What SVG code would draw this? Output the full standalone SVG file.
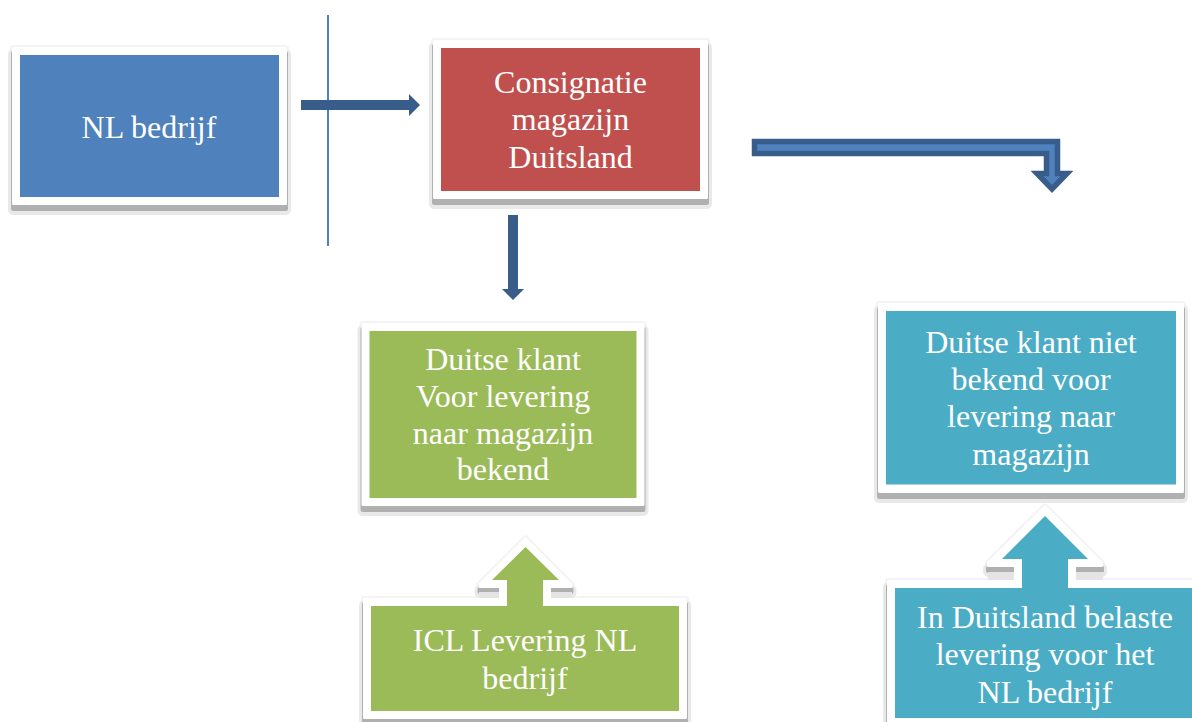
<svg xmlns="http://www.w3.org/2000/svg" xmlns:xlink="http://www.w3.org/1999/xlink" width="1192" height="722" viewBox="0 0 1192 722">
<style>
.o{fill:#f4f4f4;stroke:#f4f4f4;stroke-width:7;stroke-linejoin:round}
.sl{fill:#e9e9e9;stroke:#e9e9e9;stroke-width:11;stroke-linejoin:round}
.sd{fill:#b0b0b0;stroke:#b0b0b0;stroke-width:5;stroke-linejoin:round}
.w{fill:#fff;stroke:#fff;stroke-width:3;stroke-linejoin:round}
.blue{fill:#4f81bd}.red{fill:#c0504d}.green{fill:#9bbb59}.teal{fill:#4bacc6}
text{font-family:"Liberation Serif","Times New Roman",serif;font-size:32px;fill:#fff;text-anchor:middle}
.a{fill:#385d8a}
.l{fill:#e4e4e4}
</style>
<defs>
<rect id="s1" x="13.500" y="48.500" width="272" height="155"/>
<rect id="s2" x="434.500" y="41.500" width="272" height="156"/>
<rect id="s3" x="363" y="324.500" width="280" height="180"/>
<rect id="s4" x="879.500" y="304.500" width="303" height="187"/>
<path id="s5" d="M364.500 599.500H500.500V586.500H480V584.500L525.500 539L571 584.500V586.500H549.500V599.500H685.500V717.500H364.500Z"/>
<path id="s6" d="M888.500 581.500H1015.500V565.500H988.500V563L1045 507L1101.500 563V565.500H1074.500V581.500H1200V724.500H888.500Z"/>
</defs>
<rect width="1192" height="722" fill="#fff"/>
<g id="connectors">
<rect x="327" y="15" width="2" height="231" fill="#4f81bd"/>
<path class="a" d="M301 100H409V94L420 105L409 116V110H301Z"/>
<path class="a" d="M508 215H518V289H524L513 300L502 289H508Z"/>
<path d="M754.500 141.500H1057.500V173.500H1067L1052 189L1037 173.500H1046.500V153.500H754.500Z" fill="#4f81bd" stroke="#385d8a" stroke-width="5.500"/>
</g>
<g id="nl-bedrijf">
<use xlink:href="#s1" class="o"/><use xlink:href="#s1" class="sl" transform="translate(0 6)"/><use xlink:href="#s1" class="sd" transform="translate(0 5)"/><use xlink:href="#s1" class="w"/>
<rect class="blue" x="20" y="55" width="259" height="142"/>
<text x="149" y="138">NL bedrijf</text>
</g>
<g id="consignatie-magazijn">
<use xlink:href="#s2" class="o"/><use xlink:href="#s2" class="sl" transform="translate(0 6)"/><use xlink:href="#s2" class="sd" transform="translate(0 5)"/><use xlink:href="#s2" class="w"/>
<rect class="red" x="441" y="48" width="259" height="143"/>
<text x="570.500" y="93">Consignatie</text><text x="570.500" y="130">magazijn</text><text x="570.500" y="168">Duitsland</text>
</g>
<g id="duitse-klant-bekend">
<use xlink:href="#s3" class="o"/><use xlink:href="#s3" class="sl" transform="translate(0 6)"/><use xlink:href="#s3" class="sd" transform="translate(0 5)"/><use xlink:href="#s3" class="w"/>
<rect class="green" x="369.500" y="331" width="267" height="167"/>
<text x="503" y="370">Duitse klant</text><text x="503" y="407">Voor levering</text><text x="503" y="444">naar magazijn</text><text x="503" y="480">bekend</text>
</g>
<g id="duitse-klant-niet-bekend">
<use xlink:href="#s4" class="o"/><use xlink:href="#s4" class="sl" transform="translate(0 6)"/><use xlink:href="#s4" class="sd" transform="translate(0 5)"/><use xlink:href="#s4" class="w"/>
<rect class="teal" x="886" y="311" width="290" height="173.500"/>
<text x="1031" y="353">Duitse klant niet</text><text x="1031" y="390">bekend voor</text><text x="1031" y="427">levering naar</text><text x="1031" y="465">magazijn</text>
</g>
<g id="icl-levering">
<use xlink:href="#s5" class="o"/><use xlink:href="#s5" class="sl" transform="translate(0 6)"/><use xlink:href="#s5" class="sd" transform="translate(0 5)"/>
<rect class="l" x="479" y="592" width="20" height="6"/><rect class="l" x="551" y="592" width="21" height="6"/>
<use xlink:href="#s5" class="w"/>
<path class="green" d="M371 606H507V580H492L525.500 547L559 580H543V606H679V711H371Z"/>
<text x="525" y="651">ICL Levering NL</text><text x="525" y="689">bedrijf</text>
</g>
<g id="belaste-levering">
<use xlink:href="#s6" class="o"/><use xlink:href="#s6" class="sl" transform="translate(0 6)"/><use xlink:href="#s6" class="sd" transform="translate(0 5)"/>
<rect class="l" x="988" y="572" width="26" height="8"/><rect class="l" x="1076" y="572" width="27" height="8"/>
<use xlink:href="#s6" class="w"/>
<path class="teal" d="M895 588H1022V559H1002L1045 516L1088 559H1068V588H1200V718H895Z"/>
<text x="1045" y="628">In Duitsland belaste</text><text x="1045" y="665">levering voor het</text><text x="1045" y="703">NL bedrijf</text>
</g>
</svg>
